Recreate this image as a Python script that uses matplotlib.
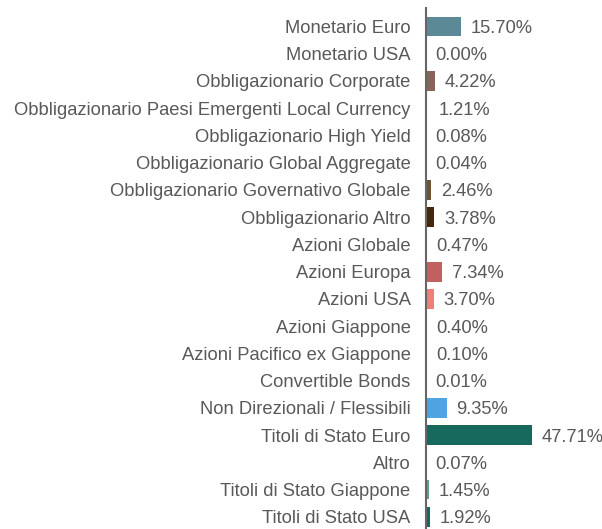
import matplotlib
matplotlib.use("Agg")
import matplotlib.pyplot as plt

categories = [
    "Monetario Euro",
    "Monetario USA",
    "Obbligazionario Corporate",
    "Obbligazionario Paesi Emergenti Local Currency",
    "Obbligazionario High Yield",
    "Obbligazionario Global Aggregate",
    "Obbligazionario Governativo Globale",
    "Obbligazionario Altro",
    "Azioni Globale",
    "Azioni Europa",
    "Azioni USA",
    "Azioni Giappone",
    "Azioni Pacifico ex Giappone",
    "Convertible Bonds",
    "Non Direzionali / Flessibili",
    "Titoli di Stato Euro",
    "Altro",
    "Titoli di Stato Giappone",
    "Titoli di Stato USA",
]
values = [15.70, 0.00, 4.22, 1.21, 0.08, 0.04, 2.46, 3.78, 0.47, 7.34,
          3.70, 0.40, 0.10, 0.01, 9.35, 47.71, 0.07, 1.45, 1.92]
colors = ["#5b8a96", "#ffffff", "#8a6358", "#ffffff", "#ffffff", "#ffffff",
          "#6b5435", "#47260f", "#ffffff", "#c06060", "#ee8077", "#ffffff",
          "#ffffff", "#ffffff", "#4ea3e0", "#17695e", "#ffffff", "#5e9e88",
          "#17695e"]

plt.rcParams["font.family"] = ["Liberation Sans", "DejaVu Sans"]
text_color = "#595959"
fs = 13.2

fig = plt.figure(figsize=(6.02, 5.29), dpi=100)
ax = fig.add_axes([426 / 602, 0.0, 176 / 602, (529 - 8) / 529])

pos = list(range(len(categories)))
ax.barh(pos, values, height=0.73, color=colors)

for y, v in zip(pos, values):
    ax.text(v + 4.3, y, f"{v:.2f}%", va="center_baseline", ha="left",
            fontsize=fs, color=text_color)

ax.set_yticks(pos)
ax.set_yticklabels(categories, fontsize=fs, color=text_color)
ax.tick_params(axis="y", length=0, pad=11)
ax.set_xticks([])
ax.set_xlim(0, 176 / 2.22)
ax.set_ylim(len(categories) - 1 + 0.45, -0.68)

for side in ("top", "right", "bottom"):
    ax.spines[side].set_visible(False)
ax.spines["left"].set_color("#666666")
ax.spines["left"].set_linewidth(1.5)

fig.savefig("out.png", dpi=100)
